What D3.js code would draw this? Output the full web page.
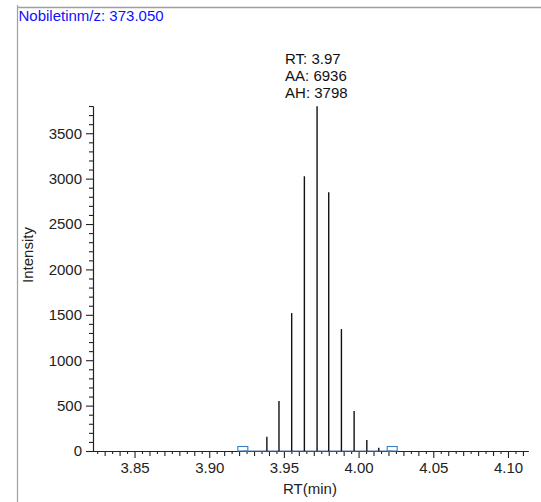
<!DOCTYPE html>
<html>
<head>
<meta charset="utf-8">
<script src="https://cdn.jsdelivr.net/npm/d3@7"></script>
<style>
  body { margin: 0; background: #fff; }
  svg { display: block; font-family: Arial, 'Liberation Sans', sans-serif; }
</style>
</head>
<body>
<div id="chart"></div>
<script>
// values
const title = 'Nobiletinm/z: 373.050';
const rtValues = [3.9386, 3.9467, 3.9552, 3.9637, 3.9722, 3.9800, 3.9885, 3.9970, 4.0055, 4.0135];
const intensities = [157, 550, 1519, 3027, 3798, 2850, 1343, 440, 120, 35];
const peakBounds = [3.9225, 4.0225];
const peakInfo = ['RT: 3.97', 'AA: 6936', 'AH: 3798'];
const xMajorTicks = [3.85, 3.90, 3.95, 4.00, 4.05, 4.10];
const yMajorTicks = [0, 500, 1000, 1500, 2000, 2500, 3000, 3500];

const width = 541, height = 502;
const svg = d3.select('#chart').append('svg').attr('width', width).attr('height', height);

// frame
svg.append('line').attr('x1', 17.5).attr('x2', 17.5).attr('y1', 5).attr('y2', height)
  .attr('stroke', '#a0a0a0').attr('stroke-width', 1.2);
svg.append('line').attr('x1', 17).attr('x2', width).attr('y1', 7.5).attr('y2', 7.5)
  .attr('stroke', '#a0a0a0').attr('stroke-width', 1.5);

svg.append('text').attr('x', 18.5).attr('y', 20.5)
  .attr('fill', '#1010ff').style('font-size', '15px').text(title);

const x = d3.scaleLinear().domain([3.8222, 4.1134]).range([93, 528]);
const y = d3.scaleLinear().domain([0, 3800]).range([451, 106]);

// tick lists
const xHalf = [], xMinor = [];
for (let i = Math.ceil(3.8222 / 0.005); i <= Math.floor(4.1134 / 0.005); i++) {
  if (i % 10 === 0) continue;
  if (i % 2 === 0) xMinor.push(i * 0.005); else xHalf.push(i * 0.005);
}
const yMinor = d3.range(0, 3801, 100).filter(v => v % 500 !== 0);

function styleAxis(g) {
  g.selectAll('path, line').attr('stroke', '#222').attr('stroke-width', 1.1);
  g.selectAll('text').attr('fill', '#222').style('font-size', '15px').style('font-family', 'Arial, "Liberation Sans", sans-serif');
}

const xg = svg.append('g').attr('transform', 'translate(0,451)');
xg.append('g').call(d3.axisBottom(x).tickValues(xHalf).tickSize(3).tickSizeOuter(0).tickFormat('')).call(styleAxis);
xg.append('g').call(d3.axisBottom(x).tickValues(xMinor).tickSize(5).tickSizeOuter(0).tickFormat('')).call(styleAxis);
xg.append('g').call(d3.axisBottom(x).tickValues(xMajorTicks).tickSize(7).tickSizeOuter(0).tickPadding(4.5).tickFormat(d3.format('.2f'))).call(styleAxis);

const yg = svg.append('g').attr('transform', 'translate(93,0)');
yg.append('g').call(d3.axisLeft(y).tickValues(yMinor).tickSize(4).tickSizeOuter(0).tickFormat('')).call(styleAxis);
yg.append('g').call(d3.axisLeft(y).tickValues(yMajorTicks).tickSize(7).tickSizeOuter(0).tickPadding(4).tickFormat(d3.format('d'))).call(styleAxis);

// baseline between peak start and end
svg.append('line')
  .attr('x1', x(peakBounds[0])).attr('x2', x(peakBounds[1]))
  .attr('y1', y(0)).attr('y2', y(0))
  .attr('stroke', '#5a7fa8').attr('stroke-width', 1.2);

// sticks
svg.selectAll('line.stick').data(rtValues).enter().append('line')
  .attr('class', 'stick')
  .attr('x1', d => x(d)).attr('x2', d => x(d))
  .attr('y1', y(0)).attr('y2', (d, i) => y(intensities[i]))
  .attr('stroke', '#111').attr('stroke-width', 1.4);

// peak start/end markers
svg.selectAll('rect.bound').data(peakBounds).enter().append('rect')
  .attr('class', 'bound')
  .attr('x', d => x(d) - 5).attr('y', y(0) - 4.5)
  .attr('width', 10).attr('height', 4.5)
  .attr('fill', 'none').attr('stroke', '#3c7fc0').attr('stroke-width', 1.1);

// apex annotation
const apexX = x(rtValues[d3.maxIndex(intensities)]);
svg.append('g').selectAll('text').data(peakInfo).enter().append('text')
  .attr('x', apexX - 32).attr('y', (d, i) => 64 + i * 17)
  .attr('fill', '#111').style('font-size', '15px').text(d => d);

// axis titles
svg.append('text').attr('x', 310).attr('y', 494).attr('text-anchor', 'middle')
  .attr('fill', '#222').style('font-size', '15px').text('RT(min)');
svg.append('text').attr('transform', 'translate(32.5,255) rotate(-90)').attr('text-anchor', 'middle')
  .attr('fill', '#222').style('font-size', '15px').text('Intensity');
</script>
</body>
</html>
